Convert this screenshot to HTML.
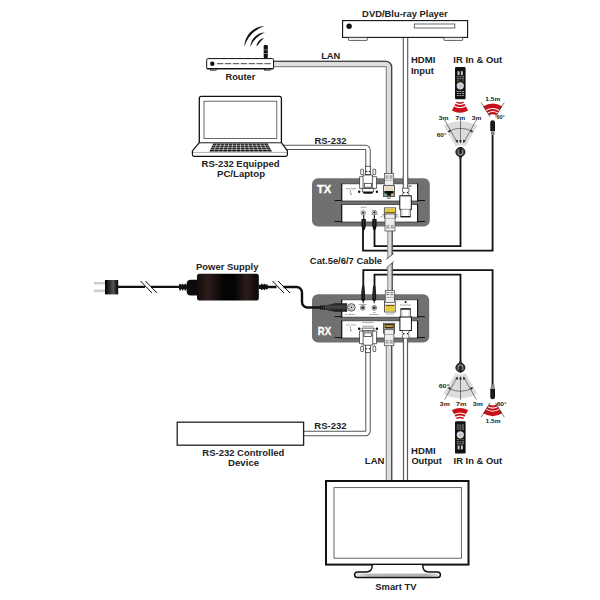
<!DOCTYPE html>
<html><head><meta charset="utf-8"><style>
html,body{margin:0;padding:0;background:#fff;width:600px;height:600px;overflow:hidden}
svg{display:block}
text{font-family:"Liberation Sans",sans-serif;font-weight:bold;fill:#222}
</style></head><body>
<svg width="600" height="600" viewBox="0 0 600 600">
<defs>
<linearGradient id="psu" x1="0" x2="1" y1="0" y2="0">
<stop offset="0" stop-color="#150d0c"/><stop offset="0.18" stop-color="#2c1d1b"/><stop offset="0.42" stop-color="#060404"/><stop offset="0.6" stop-color="#040303"/><stop offset="0.8" stop-color="#2c1d1b"/><stop offset="0.94" stop-color="#140c0b"/><stop offset="1" stop-color="#080505"/>
</linearGradient>
<linearGradient id="plugg" x1="0" x2="1" y1="0" y2="0">
<stop offset="0" stop-color="#000"/><stop offset="0.7" stop-color="#555"/><stop offset="1" stop-color="#111"/>
</linearGradient>
<radialGradient id="redg" cx="0.5" cy="0.5" r="0.6">
<stop offset="0" stop-color="#e0101c"/><stop offset="0.8" stop-color="#c8101a"/><stop offset="1" stop-color="#8a0a10"/>
</radialGradient>
<linearGradient id="blast" x1="0" x2="1" y1="0" y2="0">
<stop offset="0" stop-color="#080808"/><stop offset="0.5" stop-color="#222"/><stop offset="1" stop-color="#080808"/>
</linearGradient>
<linearGradient id="dcg" x1="0" x2="0" y1="0" y2="1">
<stop offset="0" stop-color="#1a1a1a"/><stop offset="0.45" stop-color="#4a4a4a"/><stop offset="1" stop-color="#111"/>
</linearGradient>
<linearGradient id="standg" x1="0" x2="1" y1="0" y2="0">
<stop offset="0" stop-color="#e0e0e0"/><stop offset="0.15" stop-color="#b8b8b8"/><stop offset="0.85" stop-color="#b0b0b0"/><stop offset="1" stop-color="#d8d8d8"/>
</linearGradient>
</defs>

<!-- ============ CABLES (under devices) ============ -->
<g fill="none" stroke-linecap="butt">
<!-- LAN top: router -> TX -->
<path d="M274 64 H386 A3 3 0 0 1 389 67 V174" stroke="#8c8c8c" stroke-width="6.5"/>
<path d="M274 64 H386 A3 3 0 0 1 389 67 V174" stroke="#dedede" stroke-width="4.1"/>
<path d="M274 61.4 H386 A5.6 5.6 0 0 1 391.6 67 V174" stroke="#474747" stroke-width="1.3"/>
<!-- HDMI input -->
<path d="M405.5 37 V190" stroke="#555" stroke-width="5.5"/>
<path d="M405.5 37 V190" stroke="#fff" stroke-width="3.3"/>
<!-- RS-232 top -->
<path d="M280 147.4 H365.5 A2.5 2.5 0 0 1 368 149.9 V168" stroke="#555" stroke-width="5.4"/>
<path d="M280 147.4 H365.5 A2.5 2.5 0 0 1 368 149.9 V168" stroke="#fff" stroke-width="3.4"/>
<!-- Black IR wires top -->
<path d="M363 228 V250.7 H492.6 V133" stroke="#111" stroke-width="1.8"/>
<path d="M374.5 228 V246.2 H460.5 V156" stroke="#111" stroke-width="1.8"/>
<!-- Black IR wires bottom -->
<path d="M363.3 296 V270.2 H492.6 V388" stroke="#111" stroke-width="1.8"/>
<path d="M374.5 296 V274.7 H460.5 V364" stroke="#111" stroke-width="1.8"/>
<!-- Cat cable TX->RX with break -->
<path d="M390 228 V258 M390 263 V292" stroke="#8c8c8c" stroke-width="5.6"/>
<path d="M390 228 V258 M390 263 V292" stroke="#dedede" stroke-width="3.4"/>
<path d="M392.2 228 V258 M392.2 263 V292" stroke="#474747" stroke-width="1.1"/>
<!-- RS-232 bottom -->
<path d="M304 433.5 H365.5 A2.5 2.5 0 0 0 368 431 V350" stroke="#555" stroke-width="5.4"/>
<path d="M304 433.5 H365.5 A2.5 2.5 0 0 0 368 431 V350" stroke="#fff" stroke-width="3.4"/>
<!-- LAN bottom -->
<path d="M389 344 V481" stroke="#8c8c8c" stroke-width="6.6"/>
<path d="M389 344 V481" stroke="#dedede" stroke-width="4.2"/>
<path d="M391.7 344 V481" stroke="#474747" stroke-width="1.2"/>
<!-- HDMI output -->
<path d="M405.5 336 V481" stroke="#5a5a5a" stroke-width="5.2"/>
<path d="M405.5 336 V481" stroke="#fff" stroke-width="2.8"/>
</g>
<!-- cat cable break cut -->
<polygon points="386,259.7 394,253.1 394,261.2 386,268.4" fill="#fff"/>
<line x1="386.3" y1="259.5" x2="393.7" y2="253.4" stroke="#333" stroke-width="0.8"/>
<line x1="386.3" y1="268.1" x2="393.7" y2="261.4" stroke="#333" stroke-width="0.8"/>


<!-- ============ IR TOP (mirrored below) ============ -->
<g id="irremote">
<!-- remote -->
<rect x="455" y="67" width="10.6" height="32.3" rx="1.2" fill="#111"/>
<rect x="457.6" y="71.2" width="1.9" height="3.9" fill="#ccc"/><rect x="460.9" y="71.2" width="1.9" height="3.9" fill="#ccc"/>
<g fill="#999"><rect x="456.8" y="76.3" width="2" height="1"/><rect x="459.4" y="76.3" width="2" height="1"/><rect x="462" y="76.3" width="2" height="1"/>
<rect x="456.8" y="78.3" width="2" height="1"/><rect x="459.4" y="78.3" width="2" height="1"/><rect x="462" y="78.3" width="2" height="1"/>
<rect x="456.8" y="91" width="2" height="1"/><rect x="459.4" y="91" width="2" height="1"/><rect x="462" y="91" width="2" height="1"/>
<rect x="456.8" y="93" width="2" height="1"/><rect x="459.4" y="93" width="2" height="1"/><rect x="462" y="93" width="2" height="1"/>
<rect x="456.8" y="95" width="2" height="1"/><rect x="459.4" y="95" width="2" height="1"/><rect x="462" y="95" width="2" height="1"/></g>
<rect x="456.8" y="80.4" width="1.8" height="1.2" fill="#6a9a30"/><rect x="459.4" y="80.4" width="1.8" height="1.2" fill="#8a2a20"/><rect x="462" y="80.4" width="1.8" height="1.2" fill="#666"/>
<circle cx="460.3" cy="85.8" r="3.6" fill="#d4d4d4"/><circle cx="460.3" cy="85.8" r="1.4" fill="#bbb"/>
<!-- remote waves -->
<path d="M456.02 102.87 A8.2 8.2 0 0 0 463.98 102.87 L463.20 101.47 A6.6 6.6 0 0 1 456.80 101.47 Z" fill="#c8101a"/>
<path d="M454.52 105.58 A11.3 11.3 0 0 0 465.48 105.58 L464.51 103.83 A9.3 9.3 0 0 1 455.49 103.83 Z" fill="#c8101a"/>
<path d="M451.86 110.39 A16.8 16.8 0 0 0 468.14 110.39 L466.01 106.55 A12.4 12.4 0 0 1 453.99 106.55 Z" fill="#c8101a"/>
</g>
<g id="irtop">
<!-- grey fan -->
<path d="M443.6 125.73 A33.8 33.8 0 0 1 477.4 125.73 L465.5 146.34 A10 10 0 0 0 455.5 146.34 Z" fill="#dcdcdc"/>
<g stroke="#222" stroke-width="0.55" fill="none">
<path d="M448.88 131.18 A26.5 26.5 0 0 1 472.12 131.18"/>
<path d="M444.6 120 L457.2 142.4 M460.5 119.5 V142.6 M476.3 120 L463.8 142.4"/>
</g>
<g fill="#222">
<path d="M457.6 143.2 L455.4 140.6 L457.9 139.8 Z"/>
<path d="M460.5 143.4 L459.2 140.2 H461.8 Z"/>
<path d="M463.4 143.2 L465.6 140.6 L463.1 139.8 Z"/>
<path d="M447.6 131.9 L450.2 129.6 L450.4 132.3 Z"/>
<path d="M473.4 131.9 L470.8 129.6 L470.6 132.3 Z"/>
</g>
<!-- receiver -->
<circle cx="460.4" cy="152" r="4.5" fill="#363636" stroke="#111" stroke-width="1"/>
<path d="M458.1 149.6 V152.4 A2.3 2.3 0 0 0 462.7 152.4 V149.6" fill="none" stroke="#8a8a8a" stroke-width="1.1"/>
<line x1="460.4" y1="147" x2="460.4" y2="153.6" stroke="#1a1a1a" stroke-width="1"/>
<path d="M459 156 H461.8 L461.2 158.8 H459.6 Z" fill="#222"/>
<!-- blaster fan -->
<path d="M483.3 106.3 A17.9 17.9 0 0 1 502.1 106.3 L499.6 110 A13.3 13.3 0 0 0 485.8 110 Z" fill="#c8101a"/>
<path d="M486.3 110.9 A12.1 12.1 0 0 1 499.1 110.9 L498 112.5 A10.2 10.2 0 0 0 487.4 112.5 Z" fill="#c8101a"/>
<path d="M488 113.4 A9.1 9.1 0 0 1 497.4 113.4 L496.2 115.2 A6.8 6.8 0 0 0 489.2 115.2 Z" fill="#c8101a"/>
<g stroke="#222" stroke-width="0.6"><path d="M489.98 116.81 L481.1 102.4 M495.42 116.81 L504.3 102.4"/></g>
<!-- blaster head -->
<path d="M490.3 122.6 A2.35 2.35 0 0 1 495 122.6 V131.1 H490.3 Z" fill="url(#blast)"/>
<rect x="490.9" y="131.1" width="3.6" height="4" fill="#999"/>
<g stroke="#555" stroke-width="0.4"><line x1="490.9" y1="132.3" x2="494.5" y2="132.3"/><line x1="490.9" y1="133.6" x2="494.5" y2="133.6"/></g>
</g>
<use href="#irtop" transform="translate(0,519.6) scale(1,-1)"/>
<use href="#irremote" transform="translate(0,520.6) scale(1,-1)"/>
<g font-size="5.6" font-weight="bold" fill="#222">
<text x="438.86" y="119.6" textLength="9.78" lengthAdjust="spacingAndGlyphs">3m</text>
<text x="455.63" y="119.6" textLength="9.71" lengthAdjust="spacingAndGlyphs">7m</text>
<text x="471.87" y="119.6" textLength="9.56" lengthAdjust="spacingAndGlyphs">3m</text>
<text x="436.68" y="136.8" textLength="9.67" lengthAdjust="spacingAndGlyphs">60°</text>
<text x="485.31" y="100.8" textLength="14.98" lengthAdjust="spacingAndGlyphs">1.5m</text>
<text x="496.53" y="118.5" textLength="8.23" lengthAdjust="spacingAndGlyphs">60°</text>
<text x="439.86" y="405.7" textLength="9.88" lengthAdjust="spacingAndGlyphs">3m</text>
<text x="456.11" y="405.7" textLength="10.35" lengthAdjust="spacingAndGlyphs">7m</text>
<text x="472.86" y="405.7" textLength="9.99" lengthAdjust="spacingAndGlyphs">3m</text>
<text x="438.65" y="388.1" textLength="10.60" lengthAdjust="spacingAndGlyphs">60°</text>
<text x="496.67" y="406.0" textLength="9.98" lengthAdjust="spacingAndGlyphs">60°</text>
<text x="485.61" y="423.4" textLength="14.98" lengthAdjust="spacingAndGlyphs">1.5m</text>
</g>

<!-- ============ DVD PLAYER ============ -->
<rect x="342.6" y="20.6" width="125" height="16.8" fill="#fff" stroke="#111" stroke-width="1.1"/>
<circle cx="349.1" cy="26.2" r="2.7" fill="#111"/>
<rect x="414.3" y="24" width="40.5" height="4" fill="#fff" stroke="#444" stroke-width="0.8"/>
<rect x="348.5" y="37.6" width="18.8" height="2.8" rx="0.6" fill="#fff" stroke="#333" stroke-width="0.8"/>
<rect x="443.9" y="37.6" width="18.8" height="2.8" rx="0.6" fill="#fff" stroke="#333" stroke-width="0.8"/>

<!-- ============ ROUTER ============ -->
<g fill="#111">
<path d="M244.4 46.7 A20.5 20.5 0 0 1 264.4 26.1 A31.5 31.5 0 0 0 244.4 46.7 Z"/>
<path d="M250.4 46.7 A14.8 14.8 0 0 1 265 32.4 A27.3 27.3 0 0 0 250.4 46.7 Z"/>
<path d="M256.5 46.7 A9.2 9.2 0 0 1 264 38.1 A58 58 0 0 0 256.5 46.7 Z"/>
</g>
<rect x="263.7" y="45.1" width="4.1" height="13" rx="1.2" fill="#111"/>
<rect x="263.7" y="49.6" width="4.1" height="0.6" fill="#bbb"/><rect x="263.7" y="53.1" width="4.1" height="0.6" fill="#bbb"/>
<rect x="206.7" y="58.6" width="66.8" height="10.2" rx="1" fill="#fff" stroke="#111" stroke-width="1"/><line x1="206.7" y1="68.6" x2="273.5" y2="68.6" stroke="#111" stroke-width="1.4"/>
<circle cx="212.3" cy="63.7" r="2.2" fill="#111"/>
<line x1="217" y1="63.7" x2="271" y2="63.7" stroke="#333" stroke-width="0.9" stroke-dasharray="6.4 1.5"/>
<rect x="210.6" y="69.3" width="5.8" height="1.2" fill="#fff" stroke="#222" stroke-width="0.6"/>
<rect x="264.5" y="69.3" width="5.8" height="1.2" fill="#fff" stroke="#222" stroke-width="0.6"/>

<!-- ============ LAPTOP ============ -->
<path d="M199.3 142.8 V98.4 Q199.3 96.4 201.3 96.4 H279.4 Q281.4 96.4 281.4 98.4 V142.8" fill="#fff" stroke="#111" stroke-width="1.3"/>
<rect x="204" y="101.2" width="72.8" height="37.2" fill="#fff" stroke="#444" stroke-width="0.8"/>
<path d="M199.3 142.6 L192.4 150.8 V154.8 Q192.4 156.3 193.9 156.3 H285.9 Q287.4 156.3 287.4 154.8 V150.8 L281.4 142.6 Z" fill="#fff" stroke="#111" stroke-width="1.2" stroke-linejoin="round"/>
<line x1="200" y1="143" x2="280.7" y2="143" stroke="#bbb" stroke-width="0.9"/>
<line x1="193" y1="152.4" x2="286.8" y2="152.4" stroke="#999" stroke-width="0.8"/>
<path d="M213.2 143.5 H267.6 L272.0 151.4 H209.4 Z" fill="#111"/>
<g stroke="#fff" stroke-width="0.55">
<line x1="211.83" y1="145.3" x2="269.10" y2="145.3"/><line x1="210.87" y1="147.3" x2="270.22" y2="147.3"/><line x1="209.89" y1="149.35" x2="271.36" y2="149.35"/>
<path d="M217.09 143.5 L213.87 151.4 M220.97 143.5 L218.34 151.4 M224.86 143.5 L222.81 151.4 M228.74 143.5 L227.29 151.4 M232.63 143.5 L231.76 151.4 M236.51 143.5 L236.23 151.4 M240.40 143.5 L240.70 151.4 M244.29 143.5 L245.17 151.4 M248.17 143.5 L249.64 151.4 M252.06 143.5 L254.11 151.4 M255.94 143.5 L258.59 151.4 M259.83 143.5 L263.06 151.4 M263.71 143.5 L267.53 151.4"/>
</g>

<!-- labels top -->

<!-- ============ TX BOX ============ -->
<rect x="312" y="178.3" width="117.8" height="48.3" rx="6" fill="#717070"/>
<rect x="341.7" y="183.8" width="75.9" height="17.2" fill="#fff" stroke="#3c3c3c" stroke-width="0.8"/>
<rect x="341.7" y="204.6" width="75.9" height="17.4" fill="#fff" stroke="#3c3c3c" stroke-width="0.8"/>
<g stroke="#111" stroke-width="1.1">
<line x1="341.7" y1="183.4" x2="341.7" y2="201.4"/><line x1="417.6" y1="183.4" x2="417.6" y2="201.4"/>
<line x1="341.7" y1="204.2" x2="341.7" y2="222.4"/><line x1="417.6" y1="204.2" x2="417.6" y2="222.4"/>
</g>
<g stroke="#111" stroke-width="1">
<line x1="334.6" y1="200.5" x2="341.7" y2="200.5"/><line x1="417.6" y1="200.5" x2="425" y2="200.5"/>
<line x1="334.6" y1="221.5" x2="341.7" y2="221.5"/><line x1="417.6" y1="221.5" x2="425" y2="221.5"/>
</g>

<!-- ============ RX BOX ============ -->
<rect x="312" y="294.2" width="117.2" height="48.3" rx="6" fill="#717070"/>
<rect x="341.7" y="299.8" width="75.9" height="17.4" fill="#fff" stroke="#3c3c3c" stroke-width="0.8"/>
<rect x="341.7" y="320.8" width="75.9" height="17.2" fill="#fff" stroke="#3c3c3c" stroke-width="0.8"/>
<g stroke="#111" stroke-width="1.1">
<line x1="341.7" y1="299.40000000000003" x2="341.7" y2="317.59999999999997"/><line x1="417.6" y1="299.40000000000003" x2="417.6" y2="317.59999999999997"/>
<line x1="341.7" y1="320.40000000000003" x2="341.7" y2="338.4"/><line x1="417.6" y1="320.40000000000003" x2="417.6" y2="338.4"/>
</g>
<g stroke="#111" stroke-width="1">
<line x1="334.6" y1="316.7" x2="341.7" y2="316.7"/><line x1="417.6" y1="316.7" x2="425" y2="316.7"/>
<line x1="334.6" y1="337.5" x2="341.7" y2="337.5"/><line x1="417.6" y1="337.5" x2="425" y2="337.5"/>
</g>

<!-- HDMI cable segments over boxes -->
<path d="M405.5 176 V189" stroke="#555" stroke-width="5.5" fill="none"/>
<path d="M405.5 176 V189" stroke="#fff" stroke-width="3.3" fill="none"/>
<path d="M405.5 337 V346" stroke="#5a5a5a" stroke-width="5.2" fill="none"/>
<path d="M405.5 337 V346" stroke="#fff" stroke-width="2.8" fill="none"/>
<!-- TX connectors -->
<!-- tiny labels upper -->
<g fill="#999"><rect x="346" y="188.3" width="4" height="0.9"/><rect x="351" y="188.3" width="5" height="0.9"/><rect x="350" y="189.6" width="0.8" height="3.5"/><circle cx="351" cy="194.2" r="0.9"/>
<rect x="387" y="197.6" width="3.8" height="1" fill="#555"/></g>
<!-- DB9 TX (cable from top) -->
<g stroke="#222" stroke-width="0.7" fill="#fff">
<rect x="365.4" y="166.2" width="5.2" height="8.4"/>
<rect x="360.7" y="169.2" width="2.7" height="5.4" rx="0.6"/>
<rect x="373" y="169.2" width="2.7" height="5.4" rx="0.6"/>
<path d="M359.6 176.7 H376.6 V188.4 H359.6 Z"/>
<path d="M363.1 175 H372.4 V188.4 H363.1 Z"/>
<rect x="364.3" y="183.3" width="7.2" height="3.9"/>
<path d="M362.2 188.4 H373.8 L373.4 192 H362.6 Z"/>
</g>
<circle cx="366.6" cy="171.5" r="0.7" fill="#222"/><circle cx="369.4" cy="171.5" r="0.7" fill="#222"/>
<path d="M362.8 191.8 H373.2 L372.2 193.8 H363.8 Z" fill="#111"/>
<circle cx="359.2" cy="191.8" r="1.2" fill="#111"/><circle cx="376.9" cy="191.8" r="1.2" fill="#111"/>
<!-- RJ45 TX upper: plug + jack -->
<rect x="383.4" y="185.7" width="11.2" height="10.8" fill="#fff" stroke="#333" stroke-width="0.8"/>
<rect x="384.3" y="186.4" width="9.4" height="4.6" fill="#e8dcc0"/>
<rect x="384.3" y="191" width="9.4" height="4.8" fill="#111"/>
<rect x="384.3" y="193.6" width="2.6" height="2.1" fill="#7fc8b0"/>
<rect x="391.1" y="193.6" width="2.6" height="2.1" fill="#d8e070"/>
<rect x="384.4" y="173.4" width="9.3" height="12" fill="#eee" stroke="#444" stroke-width="0.7"/>
<g stroke="#555" stroke-width="0.8"><path d="M385.6 176.1 H388.4 M389.6 176.1 H392.5 M385.6 178 H388.4 M389.6 178 H392.5"/></g>
<line x1="384.4" y1="180.3" x2="393.7" y2="180.3" stroke="#777" stroke-width="0.5"/>
<!-- HDMI TX -->
<rect x="408.2" y="184.9" width="3.4" height="0.7" fill="#bbb"/><rect x="408.2" y="185.7" width="3.4" height="0.9" fill="#555"/>
<path d="M402.4 188.2 H409 V191 Q409 192.2 407.7 192.6 Q409 193.1 409 194.4 V195.8 H402.4 V194.4 Q402.4 193.1 403.7 192.6 Q402.4 192.2 402.4 191 Z" fill="#fff" stroke="#333" stroke-width="0.7"/>
<circle cx="403.9" cy="192.6" r="0.75" fill="#111"/><circle cx="407.5" cy="192.6" r="0.75" fill="#111"/>
<rect x="399.8" y="195.8" width="11.5" height="13.6" fill="#fff" stroke="#111" stroke-width="1"/>
<path d="M400.8 209.4 V216.6 H410.3 V209.4" fill="#fff" stroke="#222" stroke-width="0.8"/>
<line x1="400.5" y1="216.7" x2="410.6" y2="216.7" stroke="#111" stroke-width="1.3"/>
<g stroke="#bbb" stroke-width="0.5"><line x1="402.4" y1="209.8" x2="402.4" y2="215.8"/><line x1="408.7" y1="209.8" x2="408.7" y2="215.8"/></g>
<!-- lower panel: IR jacks + plugs -->
<g fill="#999"><rect x="360.5" y="206.8" width="6" height="0.8"/><rect x="371" y="213.8" width="7" height="0.8"/><rect x="380" y="216.5" width="3" height="0.7"/><rect x="396" y="216.5" width="3" height="0.7"/></g>
<circle cx="363.2" cy="212.8" r="2.3" fill="#ddd" stroke="#555" stroke-width="0.6"/>
<circle cx="363.2" cy="212.8" r="1.1" fill="#222"/>
<circle cx="374.4" cy="212.4" r="2.3" fill="#ddd" stroke="#555" stroke-width="0.6"/>
<circle cx="374.4" cy="212.4" r="1.1" fill="#222"/>
<rect x="363" y="215" width="1.3" height="4" fill="#333"/>
<rect x="373.7" y="215" width="1.3" height="4" fill="#333"/>
<path d="M361.5 219 H365.8 V226 L364.6 230 H362.7 L361.5 226 Z" fill="#111"/>
<path d="M372.3 219 H376.6 V226 L375.4 230 H373.5 L372.3 226 Z" fill="#111"/>
<g stroke="#777" stroke-width="0.4"><line x1="363.6" y1="220" x2="363.6" y2="226"/><line x1="374.4" y1="220" x2="374.4" y2="226"/></g>
<!-- RJ45 TX lower (yellow) -->
<rect x="384.3" y="207.9" width="11.4" height="10" fill="#fff" stroke="#333" stroke-width="0.8"/>
<rect x="385.1" y="208.6" width="9.8" height="4.4" fill="#e8c830"/>
<rect x="385.1" y="212.2" width="9.8" height="1.2" fill="#6a5010"/>
<rect x="385" y="214" width="10" height="17" fill="#eee" stroke="#444" stroke-width="0.7"/>
<line x1="385" y1="218.5" x2="395" y2="218.5" stroke="#777" stroke-width="0.5"/>
<g stroke="#555" stroke-width="0.8"><path d="M386.2 225.8 H389.3 M390.6 225.8 H393.8 M386.2 227.8 H389.3 M390.6 227.8 H393.8"/></g>
<g fill="#555"><rect x="382" y="214.6" width="2.6" height="0.6"/><rect x="395.5" y="214.6" width="2.6" height="0.6"/></g>

<!-- RX connectors -->
<!-- 3.5mm plugs from top -->
<path d="M361.3 292.3 H365 V299.5 L364 301.2 H362.3 L361.3 299.5 Z" fill="#111"/>
<path d="M362.1 285.5 H364.3 L365 292.3 H361.3 Z" fill="#222"/>
<path d="M372.4 292.3 H376.1 V299.5 L375.1 301.2 H373.4 L372.4 299.5 Z" fill="#111"/>
<path d="M373.2 285.5 H375.4 L376.1 292.3 H372.4 Z" fill="#222"/>
<g stroke="#777" stroke-width="0.4"><line x1="363.3" y1="293" x2="363.3" y2="299"/><line x1="374.3" y1="293" x2="374.3" y2="299"/></g>
<rect x="362.7" y="301" width="1.2" height="2.2" fill="#444"/>
<rect x="373.7" y="301" width="1.2" height="2.2" fill="#444"/>
<g fill="#999"><rect x="358.8" y="304" width="8" height="0.8"/><rect x="369.5" y="314" width="9" height="0.8"/><rect x="372.8" y="312.3" width="3" height="0.7"/><rect x="348" y="314" width="7" height="0.8"/><rect x="345" y="314" width="2" height="0.8"/></g>
<circle cx="362.8" cy="307.8" r="2.4" fill="#cfcfcf" stroke="#444" stroke-width="0.6"/>
<circle cx="362.8" cy="307.8" r="1.3" fill="#222"/>
<circle cx="374.3" cy="307.8" r="2.4" fill="#cfcfcf" stroke="#444" stroke-width="0.6"/>
<circle cx="374.3" cy="307.8" r="1.3" fill="#222"/>
<!-- RJ45 RX upper (cat from top) -->
<rect x="384.6" y="301" width="10.6" height="11" fill="#fff" stroke="#333" stroke-width="0.8"/>
<rect x="385.4" y="305.5" width="9" height="5.7" fill="#e8c830"/>
<rect x="385.4" y="304.8" width="9" height="1.2" fill="#6a5010"/>
<rect x="385.2" y="290.4" width="9.2" height="12" fill="#eee" stroke="#444" stroke-width="0.7"/>
<g stroke="#555" stroke-width="0.8"><path d="M386.4 292.6 H389.3 M390.4 292.6 H393.2 M386.4 294.6 H389.3 M390.4 294.6 H393.2"/></g>
<line x1="385.2" y1="297.4" x2="394.4" y2="297.4" stroke="#777" stroke-width="0.5"/>
<rect x="386" y="313.6" width="8" height="0.8" fill="#999"/>
<!-- HDMI RX (cable from bottom) -->
<circle cx="405.6" cy="302" r="1" fill="#111"/>
<rect x="400" y="304.6" width="11" height="0.8" fill="#999"/>
<path d="M400.8 317 V309 H410.4 V317" fill="#fff" stroke="#222" stroke-width="0.8"/>
<line x1="400.5" y1="308.9" x2="410.7" y2="308.9" stroke="#111" stroke-width="1.3"/>
<g stroke="#bbb" stroke-width="0.5"><line x1="402.4" y1="309.6" x2="402.4" y2="316.5"/><line x1="408.8" y1="309.6" x2="408.8" y2="316.5"/></g>
<rect x="399.9" y="317" width="11.5" height="13.5" fill="#fff" stroke="#111" stroke-width="1"/>
<path d="M402.4 330.5 H409 V331.9 Q409 333.2 407.7 333.7 Q409 334.1 409 335.3 V338.2 H402.4 V335.3 Q402.4 334.1 403.7 333.7 Q402.4 333.2 402.4 331.9 Z" fill="#fff" stroke="#333" stroke-width="0.7"/>
<circle cx="403.9" cy="333.7" r="0.75" fill="#111"/><circle cx="407.5" cy="333.7" r="0.75" fill="#111"/>
<!-- RJ45 RX lower (plug from bottom) -->
<rect x="383.6" y="323.3" width="11" height="10" fill="#fff" stroke="#333" stroke-width="0.8"/>
<rect x="384.4" y="324" width="9.4" height="4.6" fill="#3a2a10"/>
<rect x="385.4" y="325.2" width="7.4" height="1.8" fill="#c8a040"/>
<rect x="384.3" y="329.5" width="9.6" height="16.2" fill="#eee" stroke="#444" stroke-width="0.7"/>
<line x1="384.3" y1="334.5" x2="393.9" y2="334.5" stroke="#777" stroke-width="0.5"/>
<g stroke="#555" stroke-width="0.8"><path d="M385.5 340.8 H388.6 M389.7 340.8 H392.8 M385.5 342.8 H388.6 M389.7 342.8 H392.8"/></g>
<!-- DB9 RX (cable from bottom) -->
<g fill="#999"><rect x="346" y="324.6" width="4" height="0.8"/><rect x="351" y="324.6" width="5" height="0.8"/><rect x="350.2" y="326" width="0.8" height="3.4"/><circle cx="351" cy="330.4" r="0.9"/>
<rect x="362.5" y="322.3" width="11" height="0.8"/></g>
<rect x="362.2" y="325.6" width="11.6" height="1.4" fill="#ccc"/>
<g stroke="#888" stroke-width="0.3"><path d="M363.5 325.6 V327 M365 325.6 V327 M366.5 325.6 V327 M368 325.6 V327 M369.5 325.6 V327 M371 325.6 V327 M372.5 325.6 V327"/></g>
<circle cx="359.2" cy="328.7" r="1.3" fill="#111"/><circle cx="376.9" cy="328.7" r="1.3" fill="#111"/>
<g stroke="#222" stroke-width="0.7" fill="#fff">
<rect x="365.4" y="344.8" width="5.2" height="7.6"/>
<rect x="360.7" y="346.4" width="2.7" height="5.1" rx="0.6"/>
<rect x="373" y="346.4" width="2.7" height="5.1" rx="0.6"/>
<path d="M362.2 328.1 H373.9 V331.1 H362.2 Z"/>
<path d="M359.5 331.1 H376.6 V343.7 H359.5 Z"/>
<path d="M363.1 331.1 H372.7 V345.2 H363.1 Z"/>
<rect x="364" y="332.9" width="7.5" height="3.6"/>
</g>
<g stroke="#555" stroke-width="0.4"><line x1="362" y1="343.7" x2="362" y2="346.4"/><line x1="374.3" y1="343.7" x2="374.3" y2="346.4"/></g>
<circle cx="366.6" cy="348.8" r="0.7" fill="#222"/><circle cx="369.4" cy="348.8" r="0.7" fill="#222"/>

<!-- ============ POWER SUPPLY ============ -->
<rect x="94" y="282" width="11" height="2.4" fill="#ccc"/>
<rect x="94" y="289.6" width="11" height="2.6" fill="#ccc"/>
<rect x="105" y="280" width="12" height="14.4" fill="url(#plugg)"/>
<rect x="117" y="280" width="1.2" height="14.4" fill="#111"/>
<g stroke="#111" stroke-width="2.4" fill="none">
<path d="M118 286.9 H145 M151 286.9 H180"/>
<path d="M267 287 H276.5 M283.5 287 H296.5 A5.5 5.5 0 0 1 302 292.5 V302 A5.5 5.5 0 0 0 307.5 307.5 H321"/>
</g>
<g stroke="#111" stroke-width="1">
<line x1="140.5" y1="281" x2="152" y2="293"/><line x1="145.5" y1="281" x2="157" y2="293"/>
<line x1="272.5" y1="281" x2="284" y2="293"/><line x1="278" y1="281" x2="290" y2="293"/>
</g>
<rect x="179" y="284.9" width="8" height="4.2" fill="#111"/>
<rect x="179.3" y="283.8" width="1.5" height="6.6" rx="0.5" fill="#111"/><rect x="181.9" y="283.8" width="1.5" height="6.6" rx="0.5" fill="#111"/><rect x="184.5" y="283.8" width="1.5" height="6.6" rx="0.5" fill="#111"/>
<path d="M186.6 284 Q186.6 279.7 191 279.7 H198 V295.5 H191 Q186.6 295.5 186.6 291 Z" fill="#0c0c0c"/>
<rect x="197" y="273.7" width="61.8" height="26.8" rx="2.5" fill="url(#psu)"/>
<rect x="258.5" y="284.8" width="9" height="4.2" fill="#111"/>
<rect x="261" y="283.8" width="1.5" height="6.2" rx="0.5" fill="#111"/><rect x="263.6" y="283.8" width="1.5" height="6.2" rx="0.5" fill="#111"/><rect x="266.2" y="284.2" width="1.3" height="5.4" rx="0.5" fill="#111"/>
<!-- DC plug to RX -->
<rect x="320.3" y="305.4" width="5" height="4.4" fill="#111"/>
<g stroke="#666" stroke-width="0.5"><line x1="321.8" y1="305.4" x2="321.8" y2="309.8"/><line x1="323.5" y1="305.4" x2="323.5" y2="309.8"/></g>
<path d="M325.3 305.5 L335 303.3 H347.2 V311.7 H335 L325.3 309.7 Z" fill="url(#dcg)"/>
<circle cx="351.4" cy="307.4" r="3.8" fill="#e6e6e6" stroke="#333" stroke-width="0.8"/>
<circle cx="351.4" cy="307.4" r="2.2" fill="#fff" stroke="#555" stroke-width="0.5"/>
<circle cx="351.4" cy="307.4" r="0.9" fill="#222"/>

<!-- labels middle -->

<!-- ============ RS-232 DEVICE ============ -->
<rect x="177.2" y="422.2" width="126.4" height="23" fill="#fff" stroke="#222" stroke-width="1.3"/>

<!-- ============ TV ============ -->
<rect x="326" y="481" width="142.5" height="83.6" fill="#fff" stroke="#111" stroke-width="2"/>
<rect x="334" y="487.6" width="127.4" height="70.6" fill="#fff" stroke="#555" stroke-width="0.9"/>
<path d="M372.3 565 C372.3 569.6 370.6 572 366.2 572 H357.6 Q354.6 572 354.6 574.8 Q354.6 577.6 357.6 577.6 H437.4 Q440.4 577.6 440.4 574.8 Q440.4 572 437.4 572 H428.8 C424.4 572 422.7 569.6 422.7 565 Z" fill="#fff"/>
<rect x="357" y="573.6" width="81" height="3.2" fill="url(#standg)"/>
<path d="M372.3 565 C372.3 569.6 370.6 572 366.2 572 H357.6 Q354.6 572 354.6 574.8 Q354.6 577.6 357.6 577.6 H437.4 Q440.4 577.6 440.4 574.8 Q440.4 572 437.4 572 H428.8 C424.4 572 422.7 569.6 422.7 565" fill="none" stroke="#111" stroke-width="1.5"/>


<!-- ============ LABELS ============ -->
<g font-size="9.4" font-weight="bold" fill="#222">
<text x="362.14" y="17.1" textLength="85.60" lengthAdjust="spacingAndGlyphs">DVD/Blu-ray Player</text>
<text x="225.45" y="79.9" textLength="29.96" lengthAdjust="spacingAndGlyphs">Router</text>
<text x="321.14" y="59.1" textLength="19.27" lengthAdjust="spacingAndGlyphs">LAN</text>
<text x="410.98" y="63.1" textLength="24.39" lengthAdjust="spacingAndGlyphs">HDMI</text>
<text x="410.99" y="73.6" textLength="23.04" lengthAdjust="spacingAndGlyphs">Input</text>
<text x="453.34" y="63.1" textLength="48.92" lengthAdjust="spacingAndGlyphs">IR In &amp; Out</text>
<text x="314.44" y="143.6" textLength="32.05" lengthAdjust="spacingAndGlyphs">RS-232</text>
<text x="201.54" y="166.9" textLength="78.07" lengthAdjust="spacingAndGlyphs">RS-232 Equipped</text>
<text x="217.03" y="176.7" textLength="48.05" lengthAdjust="spacingAndGlyphs">PC/Laptop</text>
<text x="196.04" y="269.7" textLength="62.38" lengthAdjust="spacingAndGlyphs">Power Supply</text>
<text x="309.87" y="263.8" textLength="72.21" lengthAdjust="spacingAndGlyphs">Cat.5e/6/7 Cable</text>
<text x="314.33" y="428.75" textLength="32.30" lengthAdjust="spacingAndGlyphs">RS-232</text>
<text x="202.34" y="455.75" textLength="82.06" lengthAdjust="spacingAndGlyphs">RS-232 Controlled</text>
<text x="228.08" y="465.75" textLength="31.01" lengthAdjust="spacingAndGlyphs">Device</text>
<text x="364.83" y="464.25" textLength="19.54" lengthAdjust="spacingAndGlyphs">LAN</text>
<text x="411.08" y="453.75" textLength="24.55" lengthAdjust="spacingAndGlyphs">HDMI</text>
<text x="411.38" y="464.25" textLength="30.53" lengthAdjust="spacingAndGlyphs">Output</text>
<text x="453.59" y="464.25" textLength="48.56" lengthAdjust="spacingAndGlyphs">IR In &amp; Out</text>
<text x="375.32" y="589.6" textLength="41.18" lengthAdjust="spacingAndGlyphs">Smart TV</text>
</g>
<g font-size="11.4" font-weight="bold" style="fill:#fff">
<text x="316.9" y="192.9" textLength="14.2" lengthAdjust="spacingAndGlyphs" style="fill:#fff" stroke="#fff" stroke-width="0.35">TX</text>
<text x="317.8" y="334.6" textLength="13.3" lengthAdjust="spacingAndGlyphs" style="fill:#fff" stroke="#fff" stroke-width="0.35">RX</text>
</g>
</svg>
</body></html>
